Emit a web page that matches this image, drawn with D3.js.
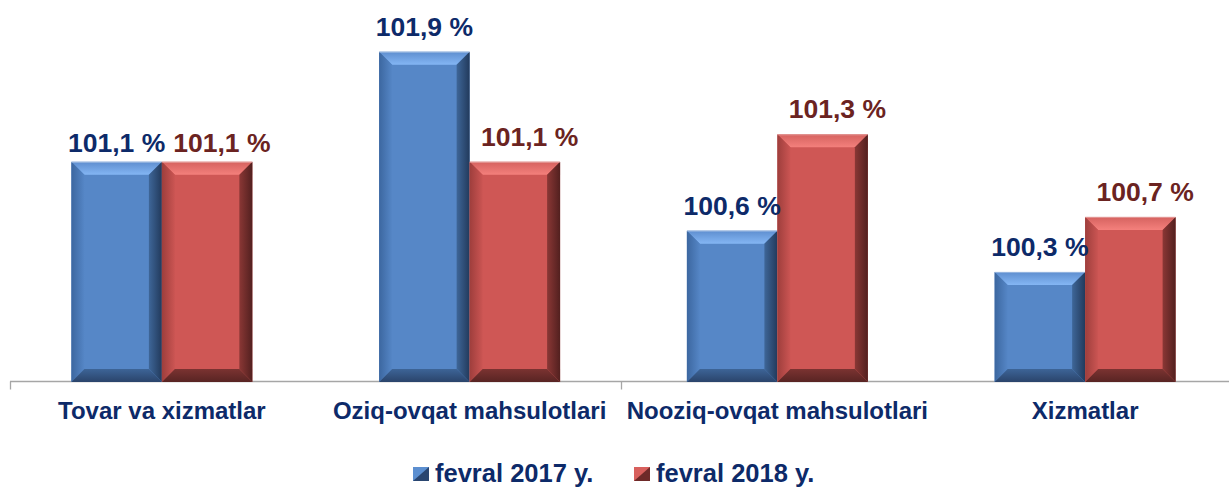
<!DOCTYPE html>
<html><head><meta charset="utf-8">
<script src="https://cdn.jsdelivr.net/npm/d3@7"></script>
<style>
html,body{margin:0;padding:0;background:#fff;}
svg{display:block;font-family:"Liberation Sans",Arial,sans-serif;font-weight:bold;}
</style></head>
<body><svg id="chart" width="1229" height="489"></svg>
<script>
const categories = ["Tovar va xizmatlar","Oziq-ovqat mahsulotlari","Nooziq-ovqat mahsulotlari","Xizmatlar"];
const seriesNames = ["fevral 2017 y.","fevral 2018 y."];
const values2017 = [101.1, 101.9, 100.6, 100.3];
const values2018 = [101.1, 101.1, 101.3, 100.7];
const valueLabels2017 = ["101,1 %","101,9 %","100,6 %","100,3 %"];
const valueLabels2018 = ["101,1 %","101,1 %","101,3 %","100,7 %"];

const seriesValues = [values2017, values2018];
const seriesLabels = [valueLabels2017, valueLabels2018];

const W = 1229, H = 489;
const svg = d3.select("#chart");

const pal = [
  {base:"#5687C7", topO:"#5E8ECF", topI:"#84B6F4", leftO:"#3C67A0", leftI:"#5586C6", rightO:"#223A5C", rightI:"#3E6698", botO:"#2A446B", botI:"#3D6497", text:"#0D2A69", legL:"#5C8FD0", legD:"#2A4670"},
  {base:"#CF5755", topO:"#D5625F", topI:"#F4807C", leftO:"#9E3E3C", leftI:"#CB5553", rightO:"#52201F", rightI:"#8A3735", botO:"#582423", botI:"#7B3331", text:"#6B2321", legL:"#D8605D", legD:"#6E2A29"}
];

const x0 = d3.scaleBand().domain(categories).range([8, 1239]).paddingInner(0.412).paddingOuter(0.206);
const x1 = d3.scaleBand().domain(d3.range(seriesNames.length)).range([0, x0.bandwidth()]);
const y = d3.scaleLinear().domain([99.5, 102]).range([382, 38]);

const defs = svg.append("defs");
function grad(id, c1, c2, dir){
  const g = defs.append("linearGradient").attr("id", id);
  const d = {down:[0,0,0,1], up:[0,1,0,0], right:[0,0,1,0], left:[1,0,0,0]}[dir];
  g.attr("x1",d[0]).attr("y1",d[1]).attr("x2",d[2]).attr("y2",d[3]);
  g.append("stop").attr("offset","0%").attr("stop-color",c1);
  g.append("stop").attr("offset","100%").attr("stop-color",c2);
}
pal.forEach((p,i)=>{
  grad("top"+i, p.topO, p.topI, "down");
  grad("left"+i, p.leftO, p.leftI, "right");
  grad("right"+i, p.rightO, p.rightI, "left");
  grad("bot"+i, p.botO, p.botI, "up");
});

// axis
const axisY = 381.5;
svg.append("line").attr("x1",10).attr("x2",W).attr("y1",axisY).attr("y2",axisY)
  .attr("stroke","#A6A6A6").attr("stroke-width",1.3);
const tickIdx = [0, 2];
tickIdx.forEach(i=>{
  const tx = Math.round(x0.step()*i + x0.range()[0] + (i===0 ? 2 : -3)) + 0.5;
  svg.append("line").attr("x1",tx).attr("x2",tx).attr("y1",axisY).attr("y2",axisY+8)
    .attr("stroke","#A6A6A6").attr("stroke-width",1.3);
});

// bars
const bars = [];
categories.forEach((c,ci)=>{
  seriesValues.forEach((vals,si)=>{
    bars.push({c, ci, si, v: vals[ci], label: seriesLabels[si][ci]});
  });
});

const b = 13;
const g = svg.append("g");
bars.forEach(d=>{
  const bx = x0(d.c) + x1(d.si);
  const bw = x1.bandwidth();
  const by = y(d.v);
  const bh = y(99.5) - by;
  const e = Math.min(b, bw/2, bh/2);
  const gb = g.append("g");
  const p = pal[d.si];
  gb.append("rect").attr("x",bx).attr("y",by).attr("width",bw).attr("height",bh).attr("fill",p.base);
  const poly = (pts, fill)=> gb.append("polygon").attr("points", pts.map(q=>q.join(",")).join(" ")).attr("fill", fill);
  poly([[bx,by],[bx+bw,by],[bx+bw-e,by+e],[bx+e,by+e]], `url(#top${d.si})`);
  poly([[bx,by],[bx+e,by+e],[bx+e,by+bh-e],[bx,by+bh]], `url(#left${d.si})`);
  poly([[bx+bw,by],[bx+bw,by+bh],[bx+bw-e,by+bh-e],[bx+bw-e,by+e]], `url(#right${d.si})`);
  poly([[bx,by+bh],[bx+e,by+bh-e],[bx+bw-e,by+bh-e],[bx+bw,by+bh]], `url(#bot${d.si})`);
  gb.append("line").attr("x1",bx).attr("x2",bx+bw).attr("y1",by+0.5).attr("y2",by+0.5).attr("stroke","#ffffff").attr("stroke-opacity",0.35);
});

// value labels
const labelGap = 16;
let prevRight = -Infinity, prevCat = -1;
const valueTexts = [];
bars.forEach(d=>{
  const cx = x0(d.c) + x1(d.si) + x1.bandwidth()/2;
  const t = svg.append("text").attr("x",cx).attr("y", y(d.v) - labelGap)
    .attr("text-anchor","middle").attr("font-size",26.5).attr("fill",pal[d.si].text).text(d.label);
  valueTexts.push(t);
  const w = t.node().getComputedTextLength();
  let left = cx - w/2;
  if (d.ci === prevCat && left < prevRight + 8) {
    const shift = prevRight + 8 - left;
    t.attr("x", cx + shift);
    left += shift;
  }
  prevRight = left + w;
  prevCat = d.ci;
});
// labels of the first category sit lower (manual placement in the original)
valueTexts.slice(0,2).forEach(t=>t.attr("transform","translate(0,6)"));

// category labels
categories.forEach(c=>{
  svg.append("text").attr("x", x0(c)+x0.bandwidth()/2).attr("y",419)
    .attr("text-anchor","middle").attr("font-size",24).attr("fill","#0D2A69").text(c);
});

// legend
const legX = [413, 634];
seriesNames.forEach((s,i)=>{
  const lx = legX[i], ly = 467, sw = 16, sh = 14;
  const p = pal[i];
  svg.append("rect").attr("x",lx).attr("y",ly).attr("width",sw).attr("height",sh).attr("fill",p.base);
  svg.append("polygon").attr("points",`${lx},${ly} ${lx+sw},${ly} ${lx},${ly+sh}`).attr("fill",p.legL);
  svg.append("polygon").attr("points",`${lx+sw},${ly} ${lx+sw},${ly+sh} ${lx},${ly+sh}`).attr("fill",p.legD);
  svg.append("text").attr("x",lx+sw+6).attr("y",482).attr("font-size",25.5).attr("fill","#0D2A69").text(s);
});
</script></body></html>
